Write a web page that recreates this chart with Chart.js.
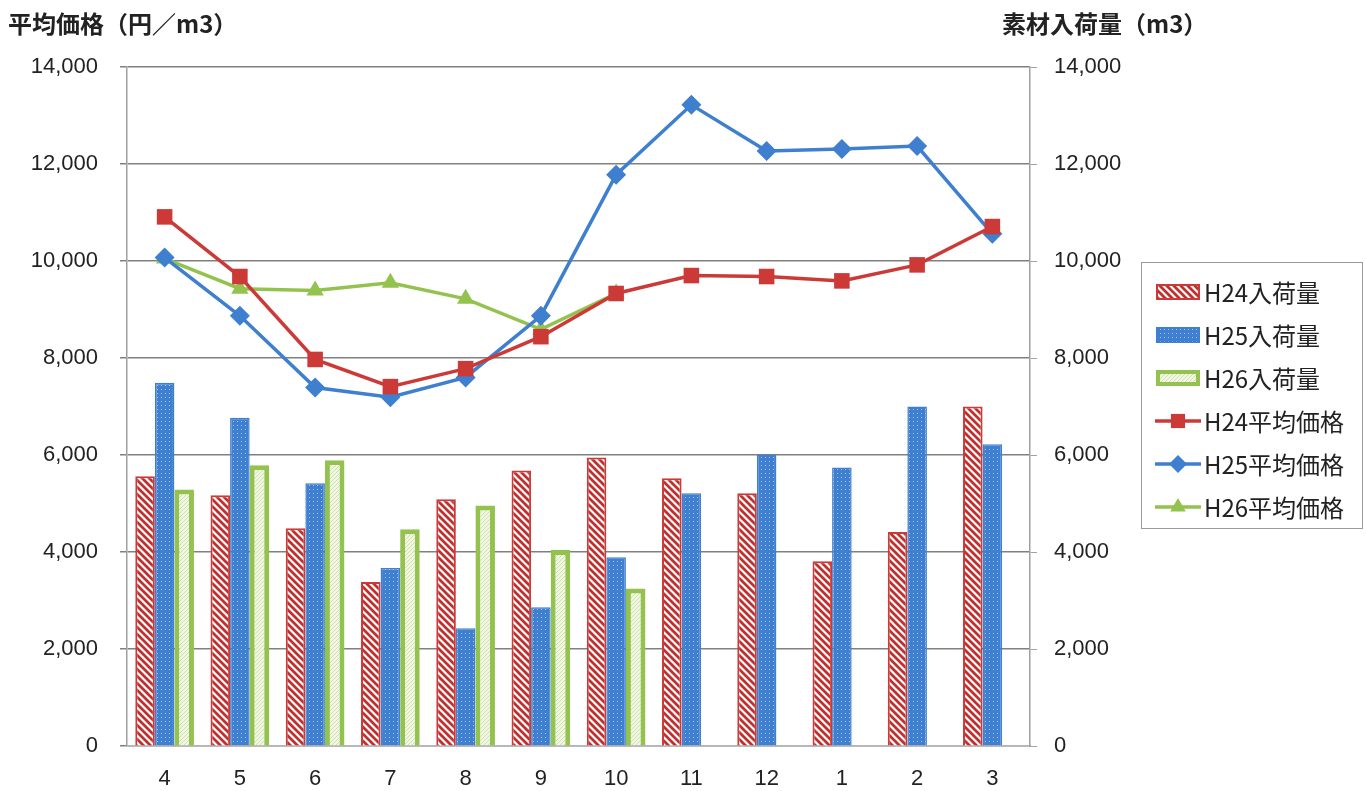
<!DOCTYPE html>
<html lang="ja">
<head>
<meta charset="utf-8">
<script src="https://cdn.jsdelivr.net/npm/chart.js@4.4.1/dist/chart.umd.min.js"></script>
<style>
    html, body { margin: 0; padding: 0; background: #fff; }
    #wrap { position: relative; width: 1366px; height: 791px; }
    #chart { position: absolute; left: 0; top: 0; }
    .ttl { position: absolute; top: 5px; font: bold 24px "Noto Sans CJK JP", sans-serif; color: #222; white-space: nowrap; }
    #legend { position: absolute; left: 1141px; top: 262px; width: 222px; height: 267px; border: 1px solid #9a9a9a; box-sizing: border-box; padding-top: 7px; background: #fff; }
    .item { height: 43px; display: flex; align-items: center; font: 24px "Noto Sans CJK JP", sans-serif; color: #222; }
    .item canvas { margin-left: 13px; margin-right: 3px; }
</style>
</head>
<body>
<div id="wrap">
    <canvas id="chart" width="1366" height="791"></canvas>
    <div class="ttl" style="left:8px">平均価格（円／m3）</div>
    <div class="ttl" style="left:1002px">素材入荷量（m3）</div>
    <div id="legend"></div>
</div>
<script>
// ========== DATA ========== //
const months = ['4', '5', '6', '7', '8', '9', '10', '11', '12', '1', '2', '3'];

const volH24 = [5560, 5170, 4490, 3380, 5090, 5680, 5950, 5520, 5210, 3810, 4410, 7000];
const volH25 = [7490, 6770, 5420, 3670, 2430, 2860, 3890, 5210, 6010, 5740, 7000, 6220];
const volH26 = [5290, 5790, 5890, 4470, 4960, 4040, 3250, null, null, null, null, null];

const priceH24 = [10910, 9680, 7970, 7410, 7780, 8440, 9330, 9700, 9680, 9590, 9920, 10710];
const priceH25 = [10070, 8870, 7390, 7190, 7600, 8870, 11780, 13220, 12270, 12310, 12370, 10560];
const priceH26 = [10050, 9430, 9390, 9550, 9220, 8590, 9330, null, null, null, null, null];

const yMin = 0, yMax = 14000, yStep = 2000;

// ========== COLOURS / PATTERNS ========== //
const RED = '#cc3a38', BLUE = '#3e7fcf', GREEN = '#94c24f';

function makePattern(size, draw) {
    const c = document.createElement('canvas');
    c.width = size; c.height = size;
    draw(c.getContext('2d'), size);
    return c.getContext('2d').createPattern(c, 'repeat');
}

// red diagonal hatching on white
const hatchRed = makePattern(7, (g, s) => {
    g.fillStyle = '#fff'; g.fillRect(0, 0, s, s);
    g.strokeStyle = '#c0302e'; g.lineWidth = 2.8;
    g.beginPath();
    g.moveTo(-1, -1); g.lineTo(s + 1, s + 1);
    g.moveTo(-1, s - 1); g.lineTo(1, s + 1);
    g.moveTo(s - 1, -1); g.lineTo(s + 1, 1);
    g.stroke();
});

// blue with fine light dots
const dotsBlue = makePattern(4, (g, s) => {
    g.fillStyle = BLUE; g.fillRect(0, 0, s, s);
    g.fillStyle = 'rgba(210,228,250,0.7)';
    g.fillRect(1, 1, 1, 1);
});

// pale green weave
const weaveGreen = makePattern(4, (g, s) => {
    g.fillStyle = '#f2f6e4'; g.fillRect(0, 0, s, s);
    g.fillStyle = '#cfe0a8';
    g.fillRect(0, 0, 1, 1); g.fillRect(2, 2, 1, 1);
    g.fillRect(1, 3, 1, 1); g.fillRect(3, 1, 1, 1);
});

// ========== CHART ========== //
const tickFont = { family: '"Liberation Sans", Arial, sans-serif', size: 22 };

const chart = new Chart(document.getElementById('chart'), {
    data: {
        labels: months,
        datasets: [
            { type: 'line', label: 'H24平均価格', data: priceH24, yAxisID: 'yPrice', order: 0,
              borderColor: RED, backgroundColor: RED, borderWidth: 3.5, pointStyle: 'rect', pointRadius: 11, pointBorderWidth: 0 },
            { type: 'line', label: 'H25平均価格', data: priceH25, yAxisID: 'yPrice', order: 0,
              borderColor: BLUE, backgroundColor: BLUE, borderWidth: 3.5, pointStyle: 'rectRot', pointRadius: 10, pointBorderWidth: 0 },
            { type: 'line', label: 'H26平均価格', data: priceH26, yAxisID: 'yPrice', order: 0,
              borderColor: GREEN, backgroundColor: GREEN, borderWidth: 3.5, pointStyle: 'triangle', pointRadius: 10, pointBorderWidth: 0 },
            { type: 'bar', label: 'H24入荷量', data: volH24, yAxisID: 'yVol', order: 1,
              backgroundColor: hatchRed, borderColor: RED, borderWidth: 2 },
            { type: 'bar', label: 'H25入荷量', data: volH25, yAxisID: 'yVol', order: 1,
              backgroundColor: dotsBlue, borderColor: BLUE, borderWidth: 1.5 },
            { type: 'bar', label: 'H26入荷量', data: volH26, yAxisID: 'yVol', order: 1,
              backgroundColor: weaveGreen, borderColor: GREEN, borderWidth: 5 }
        ]
    },
    options: {
        responsive: false,
        animation: false,
        layout: { padding: { left: 0, right: 231, top: 67, bottom: 0 } },
        datasets: { bar: { categoryPercentage: 0.78, barPercentage: 1.0 } },
        plugins: { legend: { display: false }, tooltip: { enabled: false } },
        scales: {
            x: {
                afterFit: s => { s.height = 45; },
                grid: { display: false },
                border: { color: '#b5b5b5', width: 1.5 },
                ticks: { color: '#222', font: tickFont, padding: 12 }
            },
            yPrice: {
                position: 'left', min: yMin, max: yMax,
                afterFit: s => { s.width = 127; },
                grid: { color: '#808080', lineWidth: 1.5, tickLength: 7, drawTicks: true },
                border: { color: '#a0a0a0', width: 1.5 },
                ticks: { stepSize: yStep, color: '#222', font: tickFont, padding: 22,
                         callback: v => v.toLocaleString('en-US') }
            },
            yVol: {
                position: 'right', min: yMin, max: yMax,
                afterFit: s => { s.width = 105; },
                grid: { drawOnChartArea: false, color: '#a0a0a0', tickLength: 7 },
                border: { color: '#a0a0a0', width: 1.5 },
                ticks: { stepSize: yStep, color: '#222', font: tickFont, padding: 17,
                         callback: v => v.toLocaleString('en-US') }
            }
        }
    }
});

// ========== LEGEND ========== //
function swatch(ds) {
    const c = document.createElement('canvas');
    c.width = 46; c.height = 22;
    const g = c.getContext('2d');
    if (ds.type === 'bar') {
        const bw = Math.min(ds.borderWidth, 4);
        g.fillStyle = ds.borderColor; g.fillRect(1, 3, 44, 16);
        g.fillStyle = ds.backgroundColor; g.fillRect(1 + bw, 3 + bw, 44 - 2 * bw, 16 - 2 * bw);
    } else {
        g.strokeStyle = ds.borderColor; g.lineWidth = 3.5;
        g.beginPath(); g.moveTo(0, 11); g.lineTo(46, 11); g.stroke();
        g.fillStyle = ds.backgroundColor;
        Chart.helpers.drawPoint(g, { pointStyle: ds.pointStyle, radius: ds.pointRadius - 1, borderWidth: 0 }, 23, 11);
    }
    return c;
}

const legendOrder = [3, 4, 5, 0, 1, 2];
const legendEl = document.getElementById('legend');
legendOrder.forEach(i => {
    const ds = chart.data.datasets[i];
    const row = document.createElement('div');
    row.className = 'item';
    row.appendChild(swatch(ds));
    const span = document.createElement('span');
    span.textContent = ds.label;
    row.appendChild(span);
    legendEl.appendChild(row);
});
</script>
</body>
</html>
